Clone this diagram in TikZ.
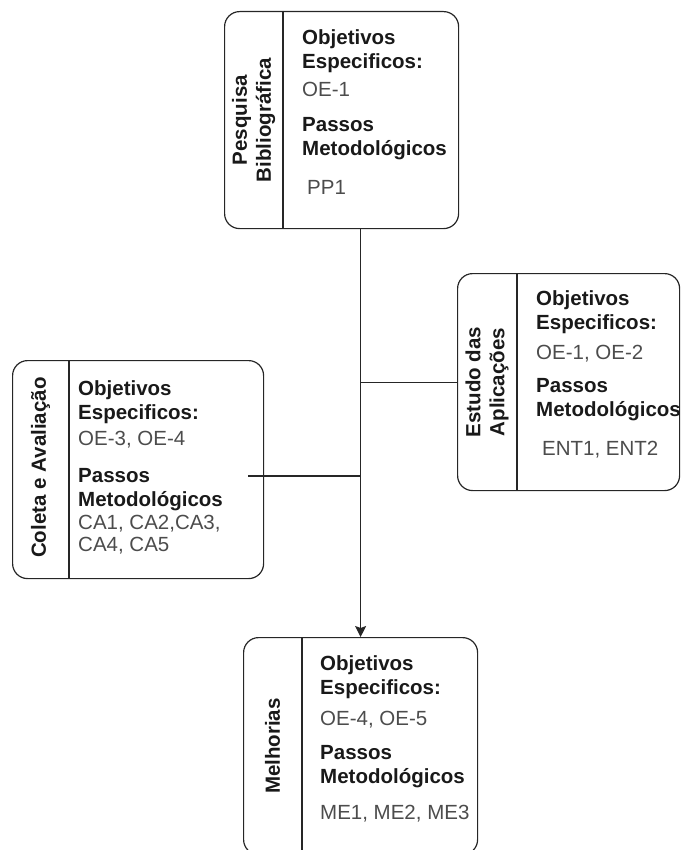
\documentclass[tikz,border=0pt]{standalone}
\usepackage{fontspec}
\setmainfont{Liberation Sans}
\usetikzlibrary{arrows.meta, positioning}

\begin{document}
\begin{tikzpicture}[
    x=1pt, y=-1pt,
    font=\fontsize{20.5}{24}\selectfont,
    stage/.style={rectangle, rounded corners=15pt, draw=black!85, line width=1.2pt, anchor=north west, inner sep=0pt},
    phase/.style={rotate=90, font=\fontsize{20.5}{24}\selectfont\bfseries, align=center, text=black!90},
    head/.style={anchor=base west, align=left, inner sep=0pt, font=\fontsize{20.5}{24}\selectfont\bfseries, text=black!90},
    item/.style={anchor=base west, align=left, inner sep=0pt, text=black!70},
    link/.style={line width=1.2pt, draw=black!85},
    arrow/.style={link, -{Stealth[length=11pt, width=11pt, inset=2pt]}}
]
    \useasboundingbox (0,0) rectangle (680,850);

    % stages
    \node (pesq) [stage, minimum width=234pt, minimum height=217pt] at (224,11) {};
    \node (estudo) [stage, minimum width=222pt, minimum height=217pt] at (457,273) {};
    \node (coleta) [stage, minimum width=251pt, minimum height=218pt] at (12,360) {};
    \node (melh) [stage, minimum width=234pt, minimum height=217pt] at (243,637) {};

    % dividers
    \draw [link] ([xshift=59pt]pesq.north west) -- ([xshift=59pt]pesq.south west);
    \draw [link] ([xshift=60pt]estudo.north west) -- ([xshift=60pt]estudo.south west);
    \draw [link] ([xshift=57pt]coleta.north west) -- ([xshift=57pt]coleta.south west);
    \draw [link] ([xshift=59pt]melh.north west) -- ([xshift=59pt]melh.south west);

    % phase names
    \node (pesq_t) [phase] at ([xshift=29.5pt]pesq.west) {Pesquisa\\Bibliográfica};
    \node (estudo_t) [phase] at ([xshift=30pt]estudo.west) {Estudo das\\Aplicações};
    \node (coleta_t) [phase] at ([xshift=28.5pt, yshift=2pt]coleta.west) {Coleta e Avaliação};
    \node (melh_t) [phase] at ([xshift=29.5pt]melh.west) {Melhorias};

    % Pesquisa Bibliografica (base = last line)
    \node (pesq_oe) [head] at (302,69) {Objetivos\\Especificos:};
    \node (pesq_oi) [item] at (302,97) {OE-1};
    \node (pesq_pm) [head] at (302,156) {Passos\\Metodológicos};
    \node (pesq_pi) [item] at (307,195) {PP1};

    % Estudo das Aplicacoes
    \node (estudo_oe) [head] at (536,329) {Objetivos\\Especificos:};
    \node (estudo_oi) [item] at (536,359) {OE-1, OE-2};
    \node (estudo_pm) [head] at (536,416) {Passos\\Metodológicos};
    \node (estudo_pi) [item] at (542,455) {ENT1, ENT2};

    % Coleta e Avaliacao
    \node (coleta_oe) [head] at (78,419) {Objetivos\\Especificos:};
    \node (coleta_oi) [item] at (78,445) {OE-3, OE-4};
    \node (coleta_pm) [head] at (78,506) {Passos\\Metodológicos};
    \node (coleta_pi) [item, font=\fontsize{20.5}{22}\selectfont] at (78,551) {CA1, CA2,CA3,\\CA4, CA5};

    % Melhorias
    \node (melh_oe) [head] at (320,694) {Objetivos\\Especificos:};
    \node (melh_oi) [item] at (320,725) {OE-4, OE-5};
    \node (melh_pm) [head] at (320,783) {Passos\\Metodológicos};
    \node (melh_pi) [item] at (320,819) {ME1, ME2, ME3};

    % connectors
    \coordinate (cbranch) at (248,476);
    \draw [arrow] (pesq.south -| melh.north) -- (melh.north);
    \draw [link] (estudo.west) -- (estudo.west -| melh.north);
    \draw [link] (cbranch) -- (cbranch -| melh.north);

\end{tikzpicture}
\end{document}
